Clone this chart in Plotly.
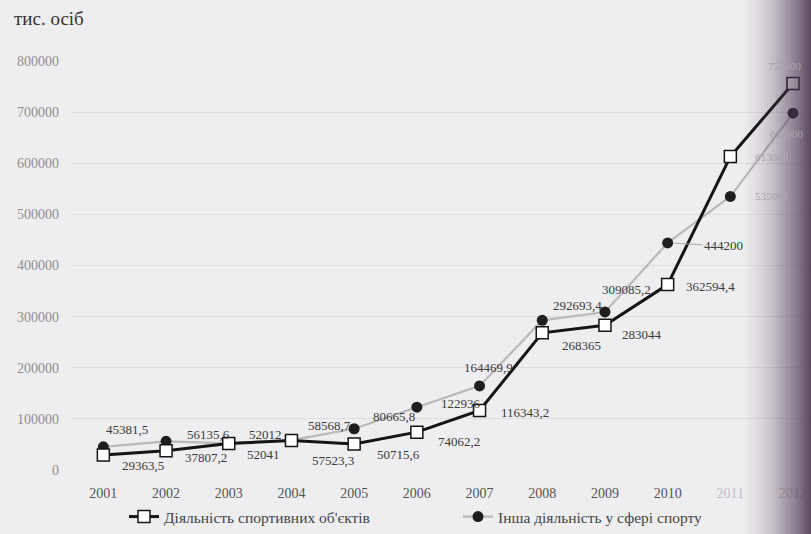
import plotly.graph_objects as go

# ---- data ----
years = [2001, 2002, 2003, 2004, 2005, 2006, 2007, 2008, 2009, 2010, 2011, 2012]
year_labels = [str(y) for y in years]
sport_objects = [29363.5, 37807.2, 52041, 57523.3, 50715.6, 74062.2, 116343.2,
                 268365, 283044, 362594.4, 613000, 756000]
other_sport = [45381.5, 56135.6, 52012, 58568.7, 80665.8, 122936, 164469.9,
               292693.4, 309085.2, 444200, 535000, 698000]
y_ticks = [0, 100000, 200000, 300000, 400000, 500000, 600000, 700000, 800000]
name_sport = "Діяльність спортивних об'єктів"
name_other = "Інша діяльність у сфері спорту"
unit_title = "тис. осіб"

# ---- label offsets (pixels, styling only) ----
sport_off = [(40, 11), (40, 7), (35, 11), (42, 20), (44, 10), (42, 9), (45, 2),
             (39, 13), (37, 9), (43, 2), (42, 0), (-8, -18)]
other_off = [(24, -17), (42, -7), (37, -9), (38, -15), (40, -12), (44, -4), (9, -18),
             (35, -15), (22, -22), (56, 3), (42, 0), (-6, 21)]

SERIF = "Liberation Serif, Times New Roman, serif"


def fmt(v):
    if float(v).is_integer():
        return str(int(v))
    return ("%.1f" % v).replace(".", ",")


fig = go.Figure()
fig.add_trace(go.Scatter(
    x=years, y=other_sport, name=name_other, mode="lines+markers",
    line=dict(color="#b9b8ba", width=2.2),
    marker=dict(symbol="circle", size=11, color="#1e1e1e", line=dict(width=0)),
))
fig.add_trace(go.Scatter(
    x=years, y=sport_objects, name=name_sport, mode="lines+markers",
    line=dict(color="#151515", width=3),
    marker=dict(symbol="square", size=12, color="white", line=dict(color="#151515", width=1.5)),
))

annotations = []
for i, yr in enumerate(years):
    for vals, offs in ((sport_objects, sport_off), (other_sport, other_off)):
        ax, ay = offs[i]
        leader = (vals is other_sport and yr == 2010)
        faded = yr >= 2011
        annotations.append(dict(
            x=yr, y=vals[i], text=fmt(vals[i]), showarrow=True,
            ax=ax, ay=ay, axref="pixel", ayref="pixel",
            arrowhead=0, arrowwidth=1, standoff=6,
            arrowcolor="#a8a8a8" if leader else "rgba(0,0,0,0)",
            font=dict(family=SERIF, size=13 if not faded else 11,
                      color="#a9a2ad" if faded else "#3a3a3a"),
        ))

annotations.append(dict(
    xref="paper", yref="paper", x=(12 - 72) / 739, y=1 + (61 - 18) / 415,
    xanchor="left", yanchor="middle",
    text=unit_title, showarrow=False,
    font=dict(family=SERIF, size=19, color="#333333"),
))

# faint tick labels where the scan is shadowed (styling only)
tick_text = [t if y < 2011 else "<span style='color:#c4bcc6'>%s</span>" % t
             for y, t in zip(years, year_labels)]

# scan shadow at right edge (styling only)
shapes = []
left_px, right_px, plot_l, plot_w = 740, 811, 72, 739
for p in range(left_px, right_px, 3):
    t = (p + 1.5 - left_px) / (right_px - left_px)
    a = 0.9 * t ** 1.6
    shapes.append(dict(
        type="rect", xref="paper", yref="paper",
        x0=(p - plot_l) / plot_w, x1=(p + 3 - plot_l) / plot_w,
        y0=-0.2, y1=1.2, line=dict(width=0),
        fillcolor="rgba(75,55,80,%.3f)" % a, layer="above",
    ))

fig.update_layout(
    width=811, height=534,
    margin=dict(l=72, r=0, t=61, b=58),
    paper_bgcolor="#eeedef", plot_bgcolor="#eeedef",
    font=dict(family=SERIF, color="#555555"),
    showlegend=True,
    legend=dict(orientation="h", x=(124 - 72) / 739, y=-0.074, xanchor="left", yanchor="top",
                font=dict(family=SERIF, size=15.5, color="#444444"),
                bgcolor="rgba(0,0,0,0)", traceorder="reversed", itemwidth=30,
                entrywidth=289),
    xaxis=dict(range=[2000.5, 2000.5 + 739 / 62.7], tickvals=years, ticktext=tick_text,
               showgrid=False, zeroline=False, showline=False,
               tickfont=dict(family=SERIF, size=14, color="#555555"),
               ticklabelstandoff=13),
    yaxis=dict(range=[0, 800000], tickvals=y_ticks, ticktext=[str(v) for v in y_ticks],
               showgrid=True, gridcolor="#dedddf", gridwidth=1, zeroline=False,
               tickfont=dict(family=SERIF, size=14, color="#8f8f8f"),
               ticklabelstandoff=12),
    annotations=annotations,
    shapes=shapes,
)

fig.write_html("out.html", config={"displayModeBar": False},
               post_script="document.body.style.margin='0';")
